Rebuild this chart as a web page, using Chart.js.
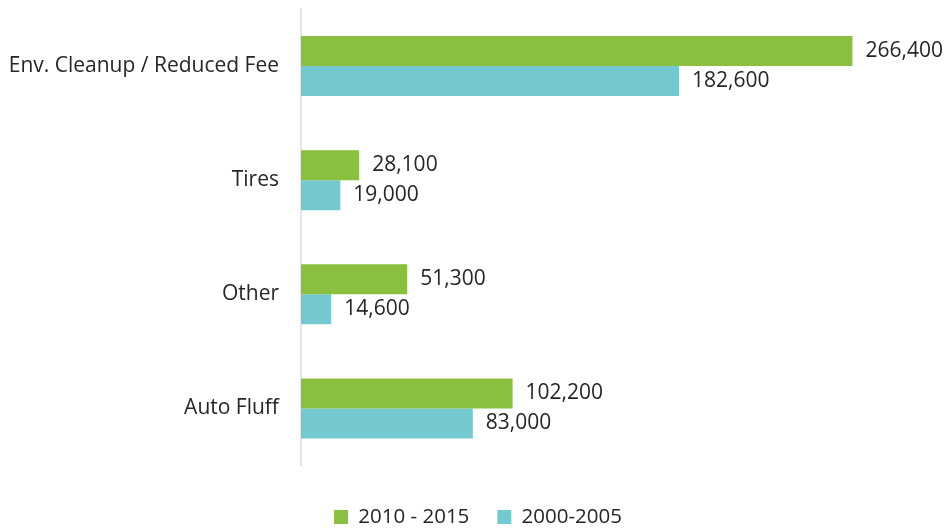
<!DOCTYPE html>
<html><head><meta charset="utf-8">
<script src="https://cdn.jsdelivr.net/npm/chart.js@4"></script>
<style>html,body{margin:0;padding:0;background:#fff}#wrap{width:950px;height:529px}</style>
</head><body><div id="wrap"><canvas id="c" width="950" height="529"></canvas></div>
<script>
const categories = ["Env. Cleanup / Reduced Fee", "Tires", "Other", "Auto Fluff"];
const series2010 = [266400, 28100, 51300, 102200];
const series2000 = [182600, 19000, 14600, 83000];
const seriesNames = ["2010 - 2015", "2000-2005"];

const FONT = "'Open Sans', 'Noto Sans', sans-serif";
const LEGEND_CENTER_Y = 517;
const LEGEND_SHIFT_X = 17;
const labelPlugin = {
  id: 'barLabels',
  afterLayout(chart) {
    const lg = chart.legend;
    if (lg) {
      const pad = lg.options.labels.padding;
      const fs = lg.options.labels.font.size;
      const cur = lg.top + pad + fs / 2;
      const dy = LEGEND_CENTER_Y - cur;
      lg.top += dy; lg.bottom += dy;
      lg.left += LEGEND_SHIFT_X; lg.right += LEGEND_SHIFT_X;
      if (lg.legendHitBoxes) lg.legendHitBoxes.forEach(h => { h.top += dy; h.left += LEGEND_SHIFT_X; });
    }
  },
  afterDatasetsDraw(chart) {
    const ctx = chart.ctx;
    ctx.save();
    ctx.font = "21px " + FONT;
    ctx.fillStyle = "#262626";
    ctx.textBaseline = "middle";
    ctx.textAlign = "left";
    chart.data.datasets.forEach((ds, di) => {
      chart.getDatasetMeta(di).data.forEach((bar, i) => {
        ctx.fillText(ds.data[i].toLocaleString('en-US'), bar.x + 13, bar.y);
      });
    });
    ctx.restore();
  }
};

new Chart(document.getElementById('c'), {
  type: 'bar',
  data: {
    labels: categories,
    datasets: [
      { label: seriesNames[0], data: series2010, backgroundColor: '#8bbf3f', borderWidth: 0 },
      { label: seriesNames[1], data: series2000, backgroundColor: '#74c9d1', borderWidth: 0 }
    ]
  },
  options: {
    indexAxis: 'y',
    responsive: false,
    animation: false,
    maintainAspectRatio: false,
    layout: { padding: { top: 9, right: 28, left: 0, bottom: 5 } },
    datasets: { bar: { barPercentage: 1, categoryPercentage: 0.526 } },
    scales: {
      x: { display: false, min: 0, max: 300000 },
      y: {
        grid: { display: false, drawTicks: false },
        border: { display: true, color: '#e6e6e6', width: 2 },
        ticks: { color: '#262626', font: { family: FONT, size: 21 }, padding: 22 },
        afterFit(scale) { scale.width = 301; scale.paddingTop = 0; scale.paddingBottom = 0; }
      }
    },
    plugins: {
      legend: {
        position: 'bottom',
        labels: { color: '#262626', font: { family: FONT, size: 20.5 }, boxWidth: 14, boxHeight: 14, padding: 28 }
      },
      tooltip: { enabled: false }
    }
  },
  plugins: [labelPlugin]
});
</script></body></html>
